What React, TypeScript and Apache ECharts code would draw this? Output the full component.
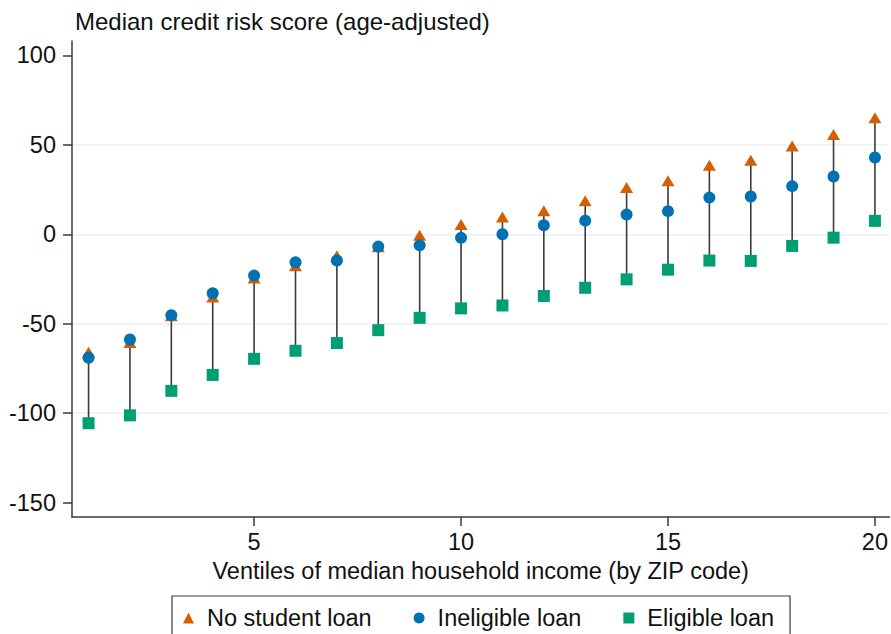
import React, { useEffect, useRef } from "react";
import * as echarts from "echarts";

const ventiles = [1, 2, 3, 4, 5, 6, 7, 8, 9, 10, 11, 12, 13, 14, 15, 16, 17, 18, 19, 20];
const noStudentLoan = [-66, -60.5, -45.5, -35, -24.5, -17.6, -12, -7, -0.6, 5.4, 9.7, 13.1, 18.7, 26.1, 29.9, 38.6, 41.4, 49.3, 55.8, 65.1];
const ineligibleLoan = [-69, -58.8, -45.2, -33, -23.1, -15.7, -14.7, -6.9, -6.2, -2, 0, 5, 7.6, 11, 12.9, 20.5, 21.1, 26.9, 32.3, 42.9];
const eligibleLoan = [-105.6, -101.2, -87.5, -78.6, -69.6, -65.1, -60.8, -53.6, -46.7, -41.4, -39.8, -34.5, -29.9, -25.2, -19.8, -14.7, -14.9, -6.5, -1.9, 7.5];
const yTicks = [-150, -100, -50, 0, 50, 100];
const yGridLines = [-100, -50, 0, 50];
const xTicks = [5, 10, 15, 20];

const FONT = "'Liberation Sans', Arial, Helvetica, sans-serif";
const FS = 23.5;
const ORANGE = "#D55E00";
const BLUE = "#0072B2";
const GREEN = "#009E73";
const AXIS = "#3a3a3a";

export default function App() {
  const ref = useRef<HTMLDivElement>(null);
  useEffect(() => {
    if (!ref.current) return;
    const chart = echarts.init(ref.current, undefined, { renderer: "svg" });
    const spikes = ventiles.map((v, i) => [v, eligibleLoan[i], Math.max(noStudentLoan[i], ineligibleLoan[i])]);
    chart.setOption({
      animation: false,
      textStyle: { fontFamily: FONT },
      title: {
        text: "Median credit risk score (age-adjusted)",
        left: 75,
        top: 9,
        padding: 0,
        textStyle: { fontSize: 24, fontWeight: "normal", color: "#111", fontFamily: FONT },
      },
      grid: { left: 72, right: 1, top: 41, bottom: 117, containLabel: false },
      xAxis: {
        type: "value",
        min: 0.6,
        max: 20.35,
        name: "Ventiles of median household income (by ZIP code)",
        nameLocation: "middle",
        nameGap: 42,
        nameTextStyle: { fontSize: FS, color: "#111", fontFamily: FONT },
        axisLine: { show: true, onZero: false, lineStyle: { color: AXIS, width: 1.5 } },
        axisTick: { show: true, length: 9, customValues: xTicks, lineStyle: { color: AXIS, width: 1.5 } },
        axisLabel: { customValues: xTicks, margin: 13, fontSize: FS, color: "#111", fontFamily: FONT },
        splitLine: { show: false },
      },
      yAxis: {
        type: "value",
        min: -158,
        max: 108,
        axisLine: { show: true, onZero: false, lineStyle: { color: AXIS, width: 1.5 } },
        axisTick: { show: true, length: 9, customValues: yTicks, lineStyle: { color: AXIS, width: 1.5 } },
        axisLabel: { customValues: yTicks, margin: 16, fontSize: FS, color: "#111", fontFamily: FONT },
        splitLine: { show: false },
      },
      legend: {
        left: 172,
        top: 596,
        orient: "horizontal",
        padding: [10, 16, 10, 11],
        itemGap: 42,
        itemWidth: 11,
        itemHeight: 11,
        borderColor: AXIS,
        borderWidth: 1.2,
        textStyle: { fontSize: FS, color: "#111", fontFamily: FONT, padding: [0, 0, 0, 8] },
        data: [
          { name: "No student loan", icon: "triangle" },
          { name: "Ineligible loan", icon: "circle" },
          { name: "Eligible loan", icon: "rect" },
        ],
      },
      series: [
        {
          type: "custom",
          name: "spikes",
          z: 1,
          silent: true,
          data: spikes,
          renderItem: (params: any, api: any) => {
            const p1 = api.coord([api.value(0), api.value(1)]);
            const p2 = api.coord([api.value(0), api.value(2)]);
            return {
              type: "line",
              shape: { x1: p1[0], y1: p1[1], x2: p2[0], y2: p2[1] },
              style: { stroke: AXIS, lineWidth: 1.6 },
            };
          },
          markLine: {
            silent: true,
            z: 0,
            symbol: "none",
            label: { show: false },
            lineStyle: { color: "#E8F0F2", width: 1.5, type: "solid" },
            data: yGridLines.map((y) => ({ yAxis: y })),
          },
        },
        {
          type: "scatter",
          name: "No student loan",
          z: 2,
          symbol: "triangle",
          symbolSize: [13, 11],
          itemStyle: { color: ORANGE, opacity: 1 },
          data: ventiles.map((v, i) => [v, noStudentLoan[i]]),
        },
        {
          type: "scatter",
          name: "Ineligible loan",
          z: 3,
          symbol: "circle",
          symbolSize: 12,
          itemStyle: { color: BLUE, opacity: 1 },
          data: ventiles.map((v, i) => [v, ineligibleLoan[i]]),
        },
        {
          type: "scatter",
          name: "Eligible loan",
          z: 4,
          symbol: "rect",
          symbolSize: 12,
          itemStyle: { color: GREEN, opacity: 1 },
          data: ventiles.map((v, i) => [v, eligibleLoan[i]]),
        },
      ],
    });
    return () => chart.dispose();
  }, []);
  return (
    <div
      ref={ref}
      style={{ position: "fixed", left: 0, top: 0, width: 891, height: 634, background: "#fff" }}
    />
  );
}
